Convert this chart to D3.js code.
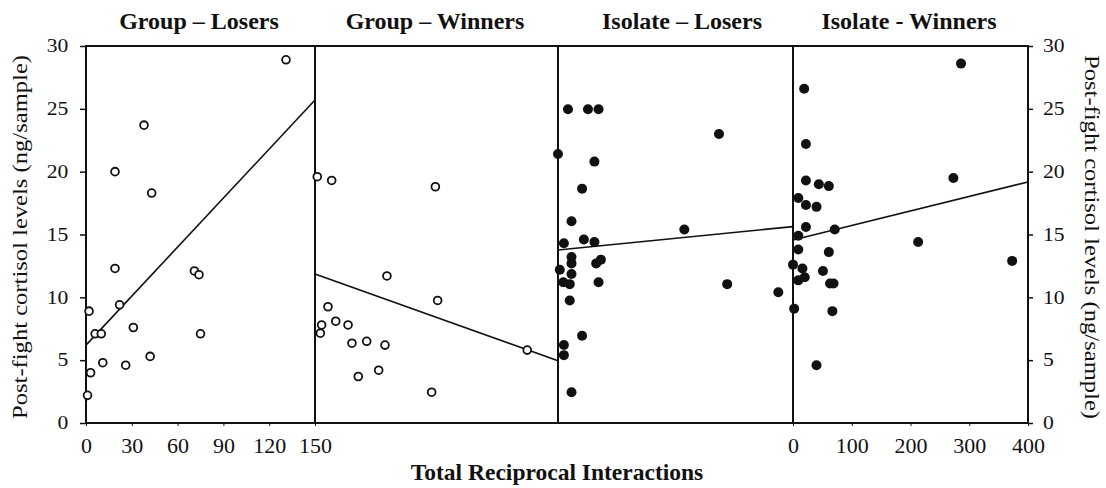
<!DOCTYPE html>
<html>
<head>
<meta charset="utf-8">
<script src="https://cdn.jsdelivr.net/npm/d3@7"></script>
<style>
  html, body { margin: 0; padding: 0; background: #fff; }
  svg { display: block; }
  text { font-family: "Liberation Serif", "Times New Roman", serif; fill: #111; }
</style>
</head>
<body>
<svg id="chart" width="1106" height="488"></svg>
<script>
// ---- Data ----
const panelTitles = ["Group \u2013 Losers", "Group \u2013 Winners", "Isolate \u2013 Losers", "Isolate - Winners"];
const xAxisTitle = "Total Reciprocal Interactions";
const yAxisTitle = "Post-fight cortisol levels (ng/sample)";

const panelDomains = [[0, 150], [0, 150], [0, 400], [0, 400]];
const yTicks = [0, 5, 10, 15, 20, 25, 30];
const groupXTicks = [0, 30, 60, 90, 120, 150];
const isolateXTicks = [0, 100, 200, 300, 400];

// Group – Losers (open circles)
const glX = [131, 38, 19, 43, 19, 71, 74, 22, 2, 31, 6, 10, 75, 42, 11, 26, 3, 1];
const glY = [28.9, 23.7, 20.0, 18.3, 12.3, 12.1, 11.8, 9.4, 8.9, 7.6, 7.1, 7.1, 7.1, 5.3, 4.8, 4.6, 4.0, 2.2];
// Group – Winners (open circles)
const gwX = [1.4, 10.3, 74.3, 44.4, 75.7, 8, 4.1, 3.3, 12.8, 20.4, 22.8, 31.9, 43.2, 39.3, 26.7, 72, 131];
const gwY = [19.6, 19.3, 18.8, 11.7, 9.75, 9.25, 7.8, 7.15, 8.1, 7.8, 6.35, 6.5, 6.2, 4.2, 3.7, 2.45, 5.8];
// Isolate – Losers (filled circles)
const ilX = [17, 51, 69, 274, 0, 62, 41, 23, 215, 44, 10, 62, 23, 23, 73, 65, 3, 23, 9, 20, 69, 288, 375, 20, 41, 10, 10, 23];
const ilY = [24.96, 24.96, 24.96, 23.0, 21.4, 20.8, 18.65, 16.05, 15.4, 14.6, 14.3, 14.4, 13.2, 12.7, 13.0, 12.7, 12.2, 11.85, 11.2, 11.05, 11.2, 11.05, 10.4, 9.75, 6.95, 6.2, 5.4, 2.45];
// Isolate - Winners (filled circles)
const iwX = [286, 19, 22, 22, 273, 44, 61, 9, 22, 40, 22, 71, 9, 213, 9, 61, 0, 373, 16, 51, 20, 9, 63, 69, 2, 67, 40];
const iwY = [28.6, 26.6, 22.2, 19.3, 19.5, 19.0, 18.85, 17.9, 17.35, 17.2, 15.6, 15.4, 14.9, 14.4, 13.8, 13.6, 12.6, 12.9, 12.3, 12.1, 11.6, 11.35, 11.1, 11.1, 9.1, 8.9, 4.6];

// Regression lines: fitted values at the left and right end of each panel's domain
const lineStart = [6.2, 11.85, 13.77, 14.57];
const lineEnd = [25.7, 4.95, 15.63, 19.18];

const seriesX = [glX, gwX, ilX, iwX];
const seriesY = [glY, gwY, ilY, iwY];
const filled = [false, false, true, true];

// ---- Layout ----
const svg = d3.select("#chart");
const plotTop = 46, plotBottom = 423;
const edges = [86, 315, 558, 793, 1028];
const titleCenters = [199, 435, 682, 909];
const ink = "#111";

const y = d3.scaleLinear().domain([0, 30]).range([plotBottom, plotTop]);
const xs = panelDomains.map((d, i) => d3.scaleLinear().domain(d).range([edges[i], edges[i + 1]]));

// Left axis
const gl = svg.append("g").attr("transform", `translate(${edges[0]},0)`)
  .call(d3.axisLeft(y).tickValues(yTicks).tickSize(6).tickSizeOuter(0));
gl.select(".domain").remove();
gl.selectAll("line").attr("stroke", ink).attr("stroke-width", 1.5);
gl.selectAll("text").attr("x", -14.7).attr("transform", "scale(1.2,1)")
  .style("font-size", "18px").attr("fill", ink);

// Right axis
const gr = svg.append("g").attr("transform", `translate(${edges[4]},0)`)
  .call(d3.axisRight(y).tickValues(yTicks).tickSize(5).tickSizeOuter(0));
gr.select(".domain").remove();
gr.selectAll("line").attr("stroke", ink).attr("stroke-width", 1.5);
gr.selectAll("text").attr("x", 12.5).attr("transform", "scale(1.2,1)")
  .style("font-size", "18px").attr("fill", ink);

// Bottom axes: panel 1 and panel 4
function bottomAxis(scale, ticks) {
  const g = svg.append("g").attr("transform", `translate(0,${plotBottom})`)
    .call(d3.axisBottom(scale).tickValues(ticks).tickSize(3).tickPadding(11).tickSizeOuter(0));
  g.select(".domain").remove();
  g.selectAll("line").attr("stroke", ink).attr("stroke-width", 1);
  g.selectAll("text").style("font-size", "22px").attr("fill", ink);
  return g;
}
bottomAxis(xs[0], groupXTicks);
bottomAxis(xs[3], isolateXTicks);

// Frame
svg.append("rect")
  .attr("x", edges[0]).attr("y", plotTop)
  .attr("width", edges[4] - edges[0]).attr("height", plotBottom - plotTop)
  .attr("fill", "none").attr("stroke", ink).attr("stroke-width", 2);
svg.selectAll("line.divider").data(edges.slice(1, 4)).enter().append("line")
  .attr("class", "divider")
  .attr("x1", d => d).attr("x2", d => d)
  .attr("y1", plotTop).attr("y2", plotBottom)
  .attr("stroke", ink).attr("stroke-width", 2);

// Panels
for (let p = 0; p < 4; p++) {
  const x = xs[p];
  const dom = panelDomains[p];
  const g = svg.append("g");
  g.append("line")
    .attr("x1", x(dom[0])).attr("y1", y(lineStart[p]))
    .attr("x2", x(dom[1])).attr("y2", y(lineEnd[p]))
    .attr("stroke", ink).attr("stroke-width", 1.6);
  const pts = seriesX[p].map((v, i) => ({ x: v, y: seriesY[p][i] }));
  g.selectAll("circle").data(pts).enter().append("circle")
    .attr("cx", d => x(d.x)).attr("cy", d => y(d.y))
    .attr("r", filled[p] ? 5 : 3.9)
    .attr("fill", filled[p] ? ink : "#fff")
    .attr("stroke", ink)
    .attr("stroke-width", filled[p] ? 0 : 1.8);
  svg.append("text")
    .attr("x", titleCenters[p]).attr("y", 29)
    .attr("text-anchor", "middle")
    .style("font-size", "24px").style("font-weight", "bold")
    .text(panelTitles[p]);
}

// Axis titles
svg.append("text")
  .attr("x", 557).attr("y", 480)
  .attr("text-anchor", "middle")
  .style("font-size", "23.5px").style("font-weight", "bold")
  .text(xAxisTitle);

svg.append("text")
  .attr("transform", "translate(27,237) rotate(-90) scale(1.23,1)")
  .attr("text-anchor", "middle")
  .style("font-size", "20px")
  .text(yAxisTitle);

svg.append("text")
  .attr("transform", "translate(1085,237) rotate(90) scale(1.23,1)")
  .attr("text-anchor", "middle")
  .style("font-size", "20px")
  .text(yAxisTitle);
</script>
</body>
</html>
